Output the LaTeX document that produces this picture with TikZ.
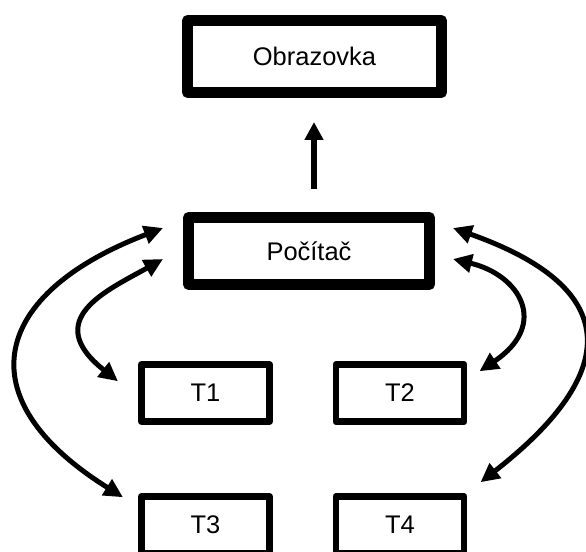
\documentclass[tikz,border=0pt]{standalone}
\usepackage{fontspec}
\setmainfont{Liberation Sans}
\usepackage{tikz}
\usetikzlibrary{arrows.meta,calc}

\begin{document}
\begin{tikzpicture}[x=0.02cm, y=-0.02cm,
		bigbox/.style={draw, line width=0.22cm, line join=round, inner sep=0,
			minimum width=#1, minimum height=1.4cm, font=\fontsize{14.5}{17}\selectfont},
		smallbox/.style={draw, line width=0.13cm, line join=round, inner sep=0,
			minimum width=2.57cm, minimum height=1.14cm, font=\fontsize{14.5}{17}\selectfont},
		link/.style={line width=0.1cm, {Triangle[length=0.38cm,width=0.36cm]}-{Triangle[length=0.38cm,width=0.36cm]}},
		uparrow/.style={line width=0.12cm, -{Triangle[length=0.36cm,width=0.36cm]}}]
		\useasboundingbox (0,0) rectangle (586,552);

		\node[bigbox=5.08cm, minimum height=1.44cm] (obr) at (314.5,56.5) {Obrazovka};
		\node[bigbox=4.82cm, minimum height=1.34cm] (poc) at (309,251) {Počítač};

		\node[smallbox] (tone)   at (205.5,393) {T1};
		\node[smallbox] (ttwo)   at (400,393) {T2};
		\node[smallbox] (tthree) at (205.5,525) {T3};
		\node[smallbox] (tfour)  at (400,525) {T4};

		\draw[uparrow] ($(poc.north)+(5,-23)$) -- ($(obr.south)+(-0.5,24)$);

		\draw[link] ($(poc.west)+(-20,-23)$) .. controls +(-170,65) and +(-160,-100) .. ($(tthree.north west)+(-15,4)$);
		\draw[link] ($(poc.west)+(-20,8)$) .. controls +(-55,31) and +(-78,-62) .. ($(tone.north west)+(-20,20)$);
		\draw[link] ($(poc.east)+(18,-23)$) .. controls +(170,60) and +(141,-110) .. ($(tfour.north east)+(13,-11)$);
		\draw[link] ($(poc.east)+(18,8)$) .. controls +(67,16) and +(70,-47) .. ($(ttwo.north east)+(12,10)$);
\end{tikzpicture}
\end{document}
